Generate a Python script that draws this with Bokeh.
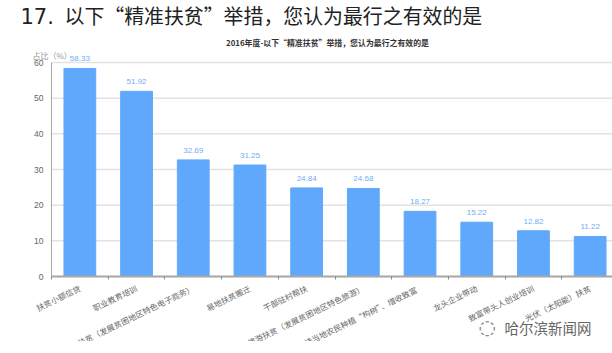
from bokeh.plotting import figure
from bokeh.embed import file_html
from bokeh.resources import INLINE
from bokeh.core.properties import value
from bokeh.models import ColumnDataSource, FixedTicker, Label, Range1d

categories = ["扶贫小额信贷", "职业教育培训", "电商扶贫（发展贫困地区特色电子商务）", "易地扶贫搬迁", "干部驻村帮扶",
              "旅游扶贫（发展贫困地区特色旅游）", "带动和扶持当地农民种植“构树”、增收致富", "龙头企业带动",
              "致富带头人创业培训", "光伏（太阳能）扶贫"]
values = [58.33, 51.92, 32.69, 31.25, 24.84, 24.68, 18.27, 15.22, 12.82, 11.22]
value_labels = ["58.33", "51.92", "32.69", "31.25", "24.84", "24.68", "18.27", "15.22", "12.82", "11.22"]
y_ticks = [0, 10, 20, 30, 40, 50, 60]
heading = "以下“精准扶贫”举措，您认为最行之有效的是"
chart_title = "2016年度-以下“精准扶贫”举措，您认为最行之有效的是"
y_title = "占比（%）"
watermark = "哈尔滨新闻网"

FONT = "Noto Sans CJK SC"
L, T, B = 51, 62, 276
W, H = 612, 341
BAND = 56.7
UNIT = (B - T) / 60

n = len(categories)
xs = [i + 0.5 for i in range(n)]
src = ColumnDataSource(dict(x=xs, top=values, lab=value_labels))

p = figure(width=W, height=H, output_backend="svg", toolbar_location=None,
           x_range=Range1d(-L / BAND, (W - L) / BAND),
           y_range=Range1d(-(H - B) / UNIT, 60 + T / UNIT),
           min_border=0, outline_line_color=None)
p.grid.visible = False
p.segment(x0=[0] * len(y_ticks), x1=[n] * len(y_ticks), y0=y_ticks, y1=y_ticks,
          line_color="#E2E2E2", line_width=1.5)
p.vbar(x="x", top="top", width=0.56, source=src, color="#5FA8FB")
p.text(x="x", y="top", text="lab", source=src, y_offset=-7, text_align="center",
       text_baseline="bottom", text_font_size="8px", text_color="#6FAEF5",
       text_font=value("Liberation Sans"))

p.yaxis.fixed_location = 0
p.yaxis.bounds = (0, 60)
p.yaxis.ticker = FixedTicker(ticks=y_ticks)
p.yaxis.axis_line_color = "#A8A8A8"
p.yaxis.major_tick_line_color = None
p.yaxis.minor_tick_line_color = None
p.yaxis.major_label_text_font_size = "8.5px"
p.yaxis.major_label_text_font = "Liberation Sans"
p.yaxis.major_label_text_color = "#666666"
p.yaxis.major_label_standoff = 2

p.xaxis.fixed_location = 0
p.xaxis.bounds = (0, n)
p.xaxis.ticker = FixedTicker(ticks=xs, minor_ticks=list(range(n + 1)))
p.xaxis.major_label_overrides = {x: c for x, c in zip(xs, categories)}
p.xaxis.major_label_orientation = 0.45
p.xaxis.major_label_standoff = 8
p.xaxis.major_label_text_font = FONT
p.xaxis.major_label_text_font_size = "8px"
p.xaxis.major_label_text_color = "#666666"
p.xaxis.axis_line_color = "#A8A8A8"
p.xaxis.axis_line_width = 2
p.xaxis.major_tick_in = 0
p.xaxis.major_tick_out = 0
p.xaxis.minor_tick_line_color = "#888888"
p.xaxis.minor_tick_in = 0
p.xaxis.minor_tick_out = 3


def put(text, x, y, size, color="#222222", style="normal", align="left", font=FONT):
    p.add_layout(Label(x=x, y=H - y, x_units="screen", y_units="screen", text=text,
                       text_font_size=size, text_color=color, text_font_style=style,
                       text_align=align, text_baseline="middle", text_font=font))


put("17.", 20, 15, "21px", "#222222", font="DejaVu Sans")
put(heading, 64, 15, "19.9px", "#222222")
put(chart_title, 327, 42, "7.9px", "#333333", "bold", "center")
put(y_title, 32, 55, "8px", "#999999")
put(watermark, 504, 327, "14.5px", "#666666")
put("◌", 478, 326, "20px", "#777777", font="DejaVu Sans")

open("out.html", "w").write(file_html(p, INLINE))
